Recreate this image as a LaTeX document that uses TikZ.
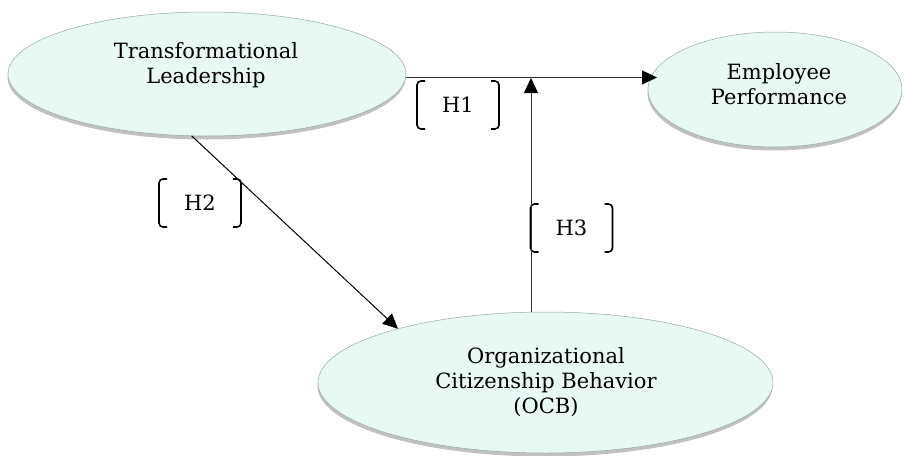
\documentclass[tikz,border=0pt]{standalone}
\usepackage{fontspec}
\setmainfont{DejaVu Serif}
\usetikzlibrary{arrows.meta,shadows,shapes.geometric}
\definecolor{mintA}{RGB}{232,248,243}
\definecolor{mintB}{RGB}{214,237,230}
\definecolor{mintC}{RGB}{170,196,189}
\definecolor{rimC}{RGB}{150,170,164}
\pgfdeclareradialshading{mintshade}{\pgfpoint{0bp}{3bp}}{color(0bp)=(mintA); color(32bp)=(mintA); color(45bp)=(mintB); color(50bp)=(mintC); color(60bp)=(mintC)}
\tikzset{
  oval/.style={ellipse, draw=rimC, line width=0.5pt, shading=mintshade,
    drop shadow={shadow xshift=-0.5pt, shadow yshift=-3.5pt, opacity=0.35, fill=black!70},
    inner sep=0pt, outer sep=0pt},
  txt/.style={font=\fontsize{21}{25.2}\selectfont, align=center, inner sep=0pt},
  hbox/.style={font=\fontsize{21}{25}\selectfont, minimum width=82pt, minimum height=48pt, inner sep=0pt, outer sep=0pt},
  brk/.style={line width=1.6pt, rounded corners=4pt, black},
  arr/.style={line width=1pt, black!80, -{Triangle[length=15pt,width=14pt,color=black]}}
}
\begin{document}
\begin{tikzpicture}[x=1pt,y=1pt]
\useasboundingbox (0,0) rectangle (904,-455);
% ellipses
\node[oval, minimum width=398pt, minimum height=124pt] (tl) at (207,-74) {};
\node[oval, minimum width=254pt, minimum height=115pt] (ep) at (775,-89.5) {};
\node[oval, minimum width=455pt, minimum height=141pt] (ocb) at (545.5,-382.5) {};
% texts
\node[txt] (tlt) at (206,-65) {Transformational\\Leadership};
\node[txt] (ept) at (779,-84.5) {Employee\\Performance};
\node[txt] (ocbt) at (546,-382) {Organizational\\Citizenship Behavior\\(OCB)};
% hypothesis labels
\node[hbox] (h1) at (458,-105) {H1};
\node[hbox] (h2) at (200,-203) {H2};
\node[hbox] (h3) at (571.5,-228) {H3};
\foreach \h in {h1,h2,h3}{
  \draw[brk] ([xshift=8pt]\h.north west) -| (\h.south west) -- ++(8pt,0);
  \draw[brk] ([xshift=-8pt]\h.north east) -| (\h.south east) -- ++(-8pt,0);
}
% connectors
\coordinate (jn) at (531,-78);
\draw[arr] (tl.-1.15) -- ([xshift=9pt]tl.-1.15 -| ep.west);
\draw[arr] (jn |- ocb.north) -- (jn);
\draw[arr, black] (tl.256) -- (ocb.160);
\end{tikzpicture}
\end{document}
